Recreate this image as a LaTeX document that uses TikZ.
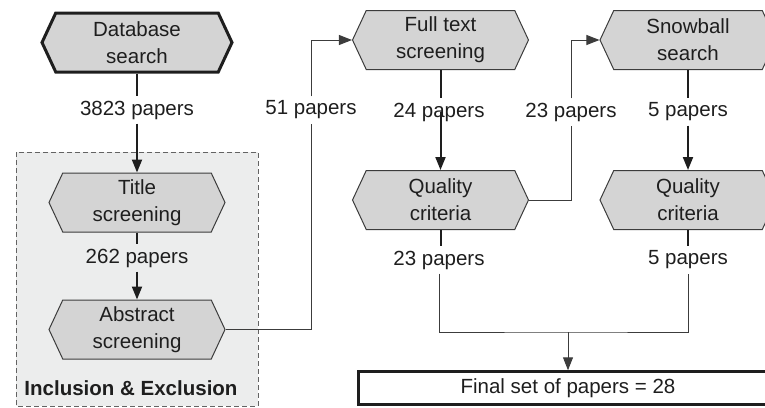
\documentclass[tikz,border=0pt]{standalone}
\usepackage{fontspec}
\setmainfont{Liberation Sans}
\usetikzlibrary{positioning, arrows.meta, shapes.symbols}
\definecolor{ink}{HTML}{1E1E1E}
\definecolor{edge}{HTML}{3C3C3C}
\definecolor{hexfill}{HTML}{D4D4D4}
\definecolor{zone}{HTML}{ECEDED}

\begin{document}
\begin{tikzpicture}[
  x=0.5pt, y=-0.5pt,
  every node/.style={font=\fontsize{10.25}{13.5}\selectfont, text=ink},
  stage/.style={signal, signal to=west and east, signal pointer angle=130, draw=edge, line width=0.5pt, fill=hexfill, align=center, minimum width=88pt, minimum height=29.5pt, inner sep=1pt},
  count/.style={inner sep=2pt},
  feed/.style={draw=ink, line width=1pt},
  route/.style={draw=edge, line width=0.5pt},
  >={Triangle[length=6.5pt, width=5pt]}
]
  \useasboundingbox (0,0) rectangle (765,407);
  \clip (0,0) rectangle (765,407);
  % inclusion & exclusion zone
  \draw[fill=zone, draw=edge!80, line width=0.5pt, dash pattern=on 2.5pt off 1.5pt] (16,152) rectangle (258,406);
  \node[font=\fontsize{10.25}{13.5}\selectfont\bfseries] (incl) at (131,388) {Inclusion \& Exclusion};
  % stages
  \node[stage, draw=ink, line width=1.5pt, minimum width=95pt] (db) at (137,42.5) {Database\\search};
  \node[stage] (title) at (137,202.5) {Title\\screening};
  \node[stage] (abstr) at (137,329.5) {Abstract\\screening};
  \node[stage] (full) at (440.5,40) {Full text\\screening};
  \node[stage] (qualA) at (440.5,200) {Quality\\criteria};
  \node[stage] (snow) at (688,40) {Snowball\\search};
  \node[stage] (qualB) at (688,200) {Quality\\criteria};
  \node[draw=ink, line width=1.5pt, fill=white, minimum width=210pt, minimum height=16pt] (final) at (568,388) {Final set of papers = 28};
  % paper counts
  \node[count] (n3823) at (137,110) {3823 papers};
  \node[count] (n262) at (137,258) {262 papers};
  \node[count] (n51) at (311,110) {51 papers};
  \node[count] (n24) at (439,112) {24 papers};
  \node[count] (n23a) at (571,112) {23 papers};
  \node[count] (n5a) at (688,112) {5 papers};
  \node[count] (n23b) at (439,260) {23 papers};
  \node[count] (n5b) at (688,260) {5 papers};
  \coordinate (join) at (568,332);
  % connectors
  \draw[feed] (db.south) -- (n3823.north);
  \draw[feed, ->] (n3823.south) -- (title.north);
  \draw[feed] (title.south) -- (n262.north);
  \draw[feed, ->] (n262.south) -- (abstr.north);
  \draw[route] (abstr.east) -| (n51.south);
  \draw[route, ->] (n51.north) |- (full.west);
  \draw[feed] (full.south) -- (n24.north -| full.south);
  \draw[feed, ->] (n24.center -| qualA.north) -- (qualA.north);
  \draw[route] (qualA.east) -| (n23a.south);
  \draw[route, ->] (n23a.north) |- (snow.west);
  \draw[feed] (snow.south) -- (n5a.north);
  \draw[feed, ->] (n5a.south) -- (qualB.north);
  \draw[feed] (qualA.south) -- (n23b.north -| qualA.south);
  \draw[feed] (qualB.south) -- (n5b.north);
  \draw[route] (n23b.south) |- (join) -| (n5b.south);
  \draw[route, ->] (join) -- (final.north);
\end{tikzpicture}
\end{document}
